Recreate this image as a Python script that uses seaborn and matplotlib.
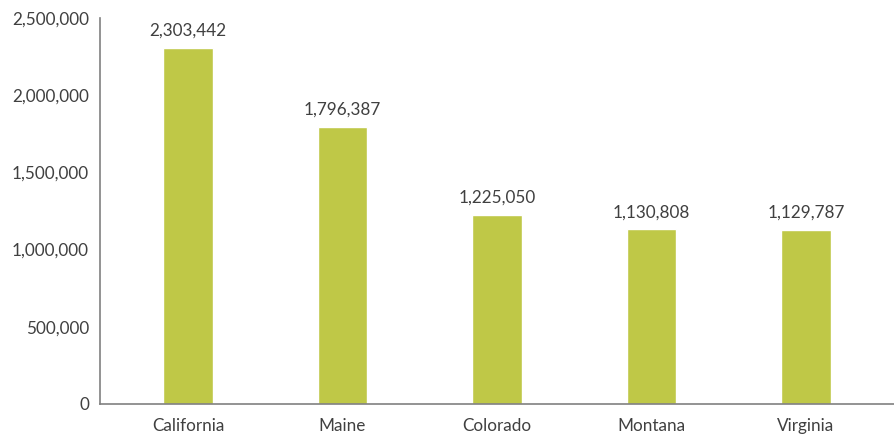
import matplotlib
matplotlib.use("Agg")
import matplotlib.pyplot as plt
import seaborn as sns
import pandas as pd

states = ['California', 'Maine', 'Colorado', 'Montana', 'Virginia']
values = [2303442, 1796387, 1225050, 1130808, 1129787]
yticks = [0, 500000, 1000000, 1500000, 2000000, 2500000]

sns.set_style("white")
plt.rcParams['font.family'] = ['Lato', 'DejaVu Sans']
text_color = '#404040'

df = pd.DataFrame({'state': states, 'value': values})

fig = plt.figure(figsize=(8.94, 4.41), dpi=100)
ax = fig.add_axes([100 / 894, 37 / 441, 794 / 894, 386 / 441])
sns.barplot(x='state', y='value', data=df, color='#bfc847', width=0.32,
            saturation=1, ax=ax)

for i, v in enumerate(values):
    ax.text(i, v + 60000, f'{v:,}', ha='center', va='bottom',
            fontsize=12.3, color=text_color)

ax.set_xlim(-0.57, 4.57)
ax.set_ylim(0, 2500000)
ax.set_yticks(yticks)
ax.set_yticklabels([f'{t:,}' for t in yticks])
ax.tick_params(axis='both', length=0, labelsize=12.3, labelcolor=text_color)
ax.tick_params(axis='y', pad=8)
ax.tick_params(axis='x', pad=10)
ax.set_xlabel('')
ax.set_ylabel('')
sns.despine(ax=ax)
for s in ['left', 'bottom']:
    ax.spines[s].set_color('#808080')
    ax.spines[s].set_linewidth(1.2)

fig.savefig('out.png', dpi=100)
